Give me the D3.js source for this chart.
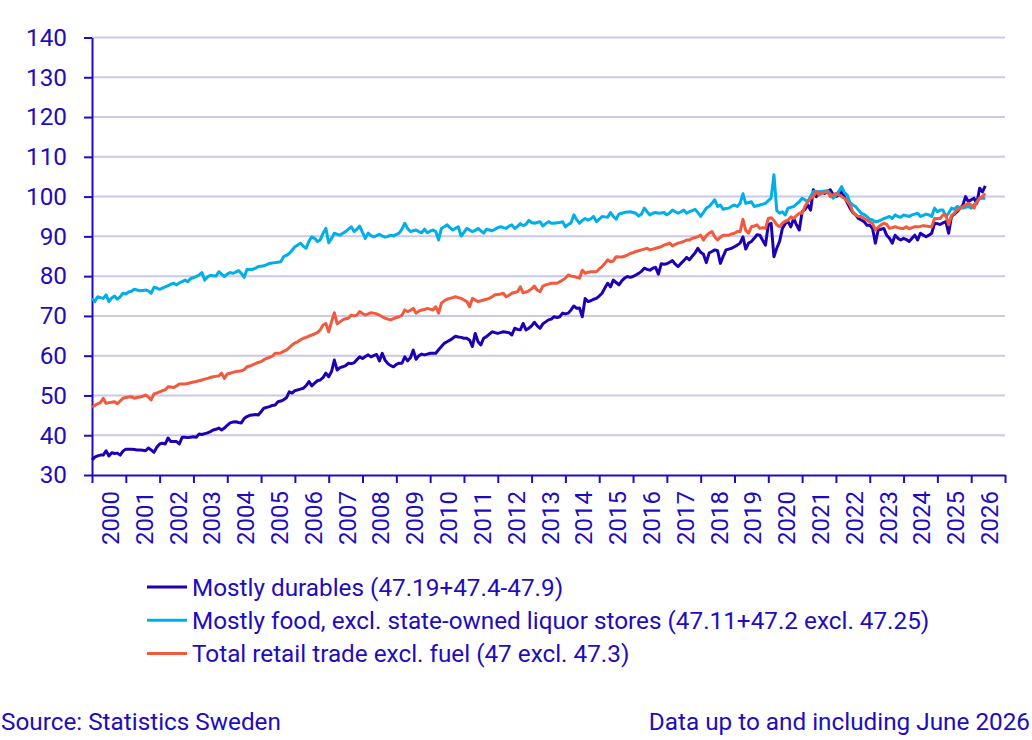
<!DOCTYPE html>
<html>
<head>
<meta charset="utf-8">
<script src="https://cdn.jsdelivr.net/npm/d3@7"></script>
<style>
    body { margin: 0; background: #fff; }
    svg text { font-family: Roboto, "Noto Sans", sans-serif; fill: #1e0cbe; }
</style>
</head>
<body>
<svg id="chart" width="1032" height="740"></svg>
<script>
// monthly index values, Jan 2000 - Jun 2026 (one row per year)
const durables = [
    33.8, 34.5, 34.8, 35.0, 35.0, 36.1, 34.8, 35.6, 35.4, 35.5, 35.0, 36.0,
    36.5, 36.5, 36.5, 36.4, 36.3, 36.3, 36.2, 36.1, 36.8, 36.3, 35.7, 37.0,
    37.8, 38.0, 37.8, 39.3, 38.4, 38.4, 38.4, 37.8, 39.5, 39.5, 39.4, 39.5,
    39.6, 39.5, 40.3, 40.2, 40.4, 40.6, 40.9, 41.3, 41.5, 41.8, 41.3, 41.8,
    42.5, 43.1, 43.3, 43.4, 43.2, 43.1, 44.2, 44.7, 45.0, 45.1, 45.2, 45.1,
    45.9, 46.8, 47.0, 47.2, 47.5, 47.6, 48.4, 48.6, 48.9, 49.4, 50.9, 50.6,
    51.2, 51.4, 51.6, 51.8, 52.5, 53.5, 52.4, 53.1, 53.7, 53.9, 54.5, 55.6,
    54.7, 56.0, 58.9, 56.4, 57.0, 57.2, 57.5, 58.1, 58.0, 58.2, 59.0, 59.7,
    59.3, 59.8, 60.2, 59.7, 60.0, 60.3, 58.7, 60.6, 58.9, 58.0, 57.5, 57.2,
    57.8, 58.1, 58.1, 59.7, 58.7, 59.5, 61.4, 59.1, 60.0, 60.4, 60.2, 60.4,
    60.6, 60.6, 60.6, 61.5, 62.3, 63.1, 63.5, 63.9, 64.4, 64.9, 64.7, 64.6,
    64.4, 64.4, 63.9, 62.3, 65.6, 63.5, 62.7, 64.4, 64.8, 65.4, 66.0, 65.8,
    65.6, 65.8, 66.0, 65.9, 65.8, 65.2, 66.9, 66.6, 66.5, 68.1, 66.5, 66.9,
    67.5, 68.4, 67.5, 66.9, 68.0, 68.5, 69.0, 69.2, 69.8, 69.6, 69.8, 70.7,
    70.5, 70.7, 71.5, 72.5, 71.9, 72.0, 69.8, 74.4, 73.6, 73.8, 74.2, 74.4,
    75.0, 75.7, 77.0, 78.2, 77.3, 79.0, 78.4, 77.8, 78.8, 79.5, 79.9, 79.7,
    79.9, 80.3, 80.7, 81.2, 82.0, 81.7, 81.5, 82.0, 82.2, 80.5, 83.1, 83.0,
    83.1, 83.5, 83.9, 83.0, 82.4, 83.2, 83.9, 84.7, 84.1, 85.0, 85.8, 87.0,
    86.0, 85.5, 83.4, 85.8, 86.2, 86.6, 86.4, 83.2, 85.0, 86.6, 86.8, 87.0,
    87.4, 87.8, 88.3, 89.9, 86.8, 88.3, 88.7, 89.5, 90.4, 90.3, 89.0, 87.8,
    92.9, 93.3, 84.9, 87.0, 88.7, 92.0, 93.2, 93.7, 92.4, 94.5, 92.9, 91.6,
    96.2, 96.8, 97.9, 96.6, 101.7, 100.0, 101.0, 101.3, 100.8, 101.2, 101.7, 100.5,
    100.0, 100.4, 101.3, 100.0, 98.5, 97.1, 96.0, 95.4, 94.5, 94.1, 93.7, 92.8,
    92.8, 92.0, 88.3, 91.6, 91.8, 92.0, 90.3, 89.5, 88.3, 90.3, 89.5, 89.1,
    89.5, 89.2, 88.7, 89.5, 90.3, 89.1, 90.8, 90.3, 89.9, 90.3, 90.8, 93.3,
    93.2, 93.0, 93.4, 93.7, 90.8, 95.0, 95.6, 96.2, 97.0, 97.8, 100.0, 98.7,
    99.2, 99.6, 98.3, 102.1, 101.2, 102.7
];

const food = [
    74.4, 73.6, 74.8, 74.6, 74.4, 75.3, 73.6, 74.5, 75.0, 74.2, 74.8, 75.7,
    75.5, 76.0, 76.2, 76.7, 76.5, 76.3, 76.4, 76.5, 76.3, 75.7, 77.2, 77.0,
    76.7, 77.0, 77.3, 77.6, 78.0, 78.2, 77.8, 78.3, 78.6, 79.0, 78.6, 79.4,
    79.6, 79.9, 80.3, 80.9, 79.0, 79.8, 80.2, 80.1, 80.0, 81.1, 80.5, 79.9,
    80.5, 80.9, 80.7, 81.0, 81.4, 80.7, 79.7, 81.7, 81.7, 81.7, 82.0, 82.4,
    82.5, 82.6, 82.9, 83.2, 83.3, 83.4, 83.5, 83.6, 84.9, 85.2, 85.7, 86.5,
    87.4, 87.8, 88.3, 87.5, 87.0, 88.8, 89.9, 89.5, 88.7, 89.1, 90.8, 92.0,
    88.4, 89.5, 90.8, 90.5, 90.3, 90.8, 91.2, 91.8, 92.4, 91.2, 91.8, 92.6,
    91.0, 89.5, 90.8, 90.2, 89.9, 90.2, 90.5, 90.1, 89.8, 90.0, 90.3, 90.1,
    90.5, 90.8, 91.8, 93.3, 92.0, 91.2, 91.4, 91.6, 91.2, 90.9, 91.8, 90.9,
    91.3, 91.6, 91.2, 89.1, 92.0, 92.4, 92.9, 92.2, 91.6, 92.0, 92.4, 90.1,
    91.0, 92.0, 91.6, 91.2, 91.5, 92.0, 91.4, 90.8, 91.8, 91.6, 91.4, 91.8,
    92.2, 92.4, 92.2, 92.0, 92.6, 92.9, 92.0, 92.5, 93.2, 92.7, 93.0, 94.0,
    93.5, 93.3, 93.5, 93.7, 92.6, 93.2, 93.7, 93.3, 93.3, 93.4, 93.5, 93.7,
    92.4, 93.0, 93.4, 95.4, 94.2, 93.3, 94.0, 94.5, 94.1, 94.4, 95.0, 93.7,
    94.3, 95.0, 94.9, 94.8, 96.0, 95.0, 94.3, 95.6, 95.8, 96.0, 96.1, 96.2,
    96.0, 95.8, 95.1, 95.6, 97.1, 96.2, 95.4, 95.8, 96.0, 95.8, 95.9, 96.0,
    95.4, 95.9, 96.6, 96.2, 95.8, 96.2, 96.6, 95.8, 96.2, 96.5, 96.8, 96.0,
    95.0, 96.0, 97.1, 97.5, 98.3, 99.2, 97.5, 97.9, 96.8, 97.0, 97.1, 97.6,
    97.9, 97.5, 98.3, 100.7, 98.3, 98.5, 98.7, 97.5, 97.7, 97.9, 98.1, 98.3,
    99.0, 99.6, 105.5, 96.5, 95.8, 96.2, 95.4, 97.1, 97.3, 97.5, 98.1, 98.7,
    99.6, 99.2, 98.7, 100.0, 101.3, 101.3, 101.2, 101.3, 101.4, 101.5, 100.7, 99.6,
    100.2, 101.3, 102.5, 101.0, 100.4, 98.5, 97.9, 97.5, 96.6, 95.8, 95.5, 95.0,
    94.3, 94.1, 93.7, 93.8, 94.1, 94.5, 94.7, 95.0, 94.5, 95.4, 95.0, 94.8,
    95.4, 95.2, 95.0, 95.4, 95.6, 95.8, 95.0, 95.3, 95.6, 95.4, 95.0, 97.1,
    96.2, 96.6, 96.6, 95.0, 95.8, 97.1, 96.8, 97.5, 97.3, 97.1, 97.3, 97.5,
    97.1, 97.9, 98.5, 99.6, 99.6, 99.6
];

const total = [
    47.0, 47.5, 47.9, 48.2, 49.3, 48.0, 48.2, 48.3, 48.4, 47.9, 48.6, 49.3,
    49.5, 49.6, 49.7, 49.3, 49.5, 49.6, 49.8, 50.1, 49.6, 48.9, 50.4, 50.6,
    50.9, 51.2, 51.4, 52.2, 52.1, 52.0, 52.4, 52.9, 52.9, 52.9, 53.0, 53.2,
    53.4, 53.5, 53.7, 53.9, 54.1, 54.3, 54.5, 54.7, 54.8, 54.9, 55.6, 54.3,
    55.4, 55.6, 55.8, 56.0, 56.1, 56.2, 56.5, 57.2, 57.4, 57.7, 58.0, 58.3,
    58.5, 59.0, 59.3, 59.6, 59.9, 60.6, 60.6, 60.7, 61.1, 61.4, 62.0, 62.7,
    63.2, 63.5, 64.0, 64.4, 64.6, 64.9, 65.2, 65.5, 65.8, 66.5, 67.7, 68.1,
    66.0, 68.5, 70.8, 68.0, 68.5, 69.0, 69.3, 69.4, 70.2, 70.0, 70.2, 71.1,
    70.6, 70.2, 70.5, 70.8, 70.7, 70.5, 70.2, 69.8, 69.4, 69.2, 69.0, 69.3,
    69.6, 69.8, 70.2, 71.5, 71.1, 71.4, 71.9, 70.7, 71.2, 71.5, 71.6, 71.9,
    71.7, 71.5, 72.3, 70.7, 73.2, 73.8, 74.2, 74.4, 74.6, 74.8, 74.6, 74.4,
    74.0, 73.6, 72.3, 74.4, 74.0, 73.6, 73.8, 74.0, 74.2, 74.4, 74.8, 75.3,
    75.4, 75.5, 75.7, 74.8, 75.2, 75.7, 75.9, 76.1, 77.3, 75.8, 76.0, 76.3,
    76.8, 77.5, 76.5, 76.1, 77.5, 77.8, 78.0, 78.2, 78.2, 78.2, 78.6, 79.0,
    79.5, 80.3, 80.0, 79.9, 79.7, 79.5, 81.5, 80.7, 81.0, 81.1, 81.1, 81.1,
    81.8, 82.4, 83.2, 84.1, 83.6, 83.8, 84.9, 84.8, 84.8, 85.0, 85.3, 85.7,
    85.9, 86.2, 86.4, 86.6, 86.8, 87.0, 86.6, 86.8, 87.0, 87.2, 87.4, 87.8,
    88.0, 88.3, 87.6, 88.0, 88.3, 88.5, 88.7, 89.1, 89.1, 89.5, 89.7, 89.9,
    90.3, 89.1, 90.2, 90.8, 91.2, 89.9, 89.1, 89.8, 90.3, 90.3, 90.3, 90.6,
    90.8, 91.2, 91.2, 94.3, 91.5, 90.8, 92.4, 92.6, 92.9, 92.0, 92.2, 92.0,
    94.5, 94.7, 94.0, 92.9, 92.4, 93.3, 93.8, 94.1, 94.9, 94.5, 95.2, 95.8,
    95.8, 97.5, 98.7, 99.5, 100.0, 101.3, 100.4, 100.8, 101.0, 101.3, 100.0, 100.4,
    100.8, 100.5, 100.0, 99.6, 98.8, 97.9, 96.2, 95.4, 95.0, 95.0, 94.5, 94.1,
    93.6, 93.3, 91.6, 92.3, 92.9, 93.3, 93.0, 92.0, 92.2, 92.4, 92.2, 92.0,
    92.0, 92.4, 91.9, 92.2, 92.4, 92.4, 92.5, 92.7, 92.6, 92.5, 92.4, 94.5,
    94.5, 94.5, 95.4, 95.4, 92.9, 95.2, 95.8, 96.6, 97.0, 97.5, 97.9, 98.3,
    97.9, 97.1, 98.7, 99.5, 100.0, 100.8
];

const yearLabels = [
    "2000", "2001", "2002", "2003", "2004", "2005", "2006", "2007", "2008",
    "2009", "2010", "2011", "2012", "2013", "2014", "2015", "2016", "2017",
    "2018", "2019", "2020", "2021", "2022", "2023", "2024", "2025", "2026"
];
const yTicks = [30, 40, 50, 60, 70, 80, 90, 100, 110, 120, 130, 140];
const seriesNames = [
    "Mostly durables (47.19+47.4-47.9)",
    "Mostly food, excl. state-owned liquor stores (47.11+47.2 excl. 47.25)",
    "Total retail trade excl. fuel (47 excl. 47.3)"
];
const seriesColors = ["#1e00b4", "#00aee8", "#f15a3c"];

const axisColor = "#1e0cbe",
    gridColor = "#c9c9e9",
    fontSize = 24.3;

const svg = d3.select("#chart");

const x = d3.scaleLinear().domain([0, yearLabels.length * 12]).range([92, 1005]);
const y = d3.scaleLinear().domain([30, 140]).range([475, 37.5]);

// gridlines
svg.append("g")
    .selectAll("line")
    .data(yTicks.filter(d => d > 30))
    .join("line")
    .attr("x1", x.range()[0])
    .attr("x2", x.range()[1])
    .attr("y1", d => y(d))
    .attr("y2", d => y(d))
    .attr("stroke", gridColor)
    .attr("stroke-width", 2);

// y axis
const yAxis = svg.append("g")
    .attr("transform", "translate(92,0)")
    .call(d3.axisLeft(y).tickValues(yTicks).tickSize(8).tickSizeOuter(0).tickPadding(17));
yAxis.selectAll("path, line").attr("stroke", axisColor).attr("stroke-width", 2);
yAxis.selectAll("text").attr("font-size", fontSize).attr("font-family", null);

// x axis (year boundaries)
const xAxis = svg.append("g")
    .attr("transform", "translate(0,475)")
    .call(d3.axisBottom(x).tickValues(d3.range(0, yearLabels.length * 12 + 1, 12)).tickSize(8).tickSizeOuter(0).tickFormat(""));
xAxis.selectAll("path, line").attr("stroke", axisColor).attr("stroke-width", 2);

// year labels, centred in each year
svg.append("g")
    .selectAll("text")
    .data(yearLabels)
    .join("text")
    .attr("transform", (d, i) => `translate(${x(i * 12 + 6) + 2},491) rotate(-90)`)
    .attr("text-anchor", "end")
    .attr("dominant-baseline", "central")
    .attr("font-size", 24)
    .text(d => d);

// series
const line = d3.line()
    .x((d, i) => x(i))
    .y(d => y(d));

svg.append("g")
    .selectAll("path")
    .data([durables, food, total])
    .join("path")
    .attr("d", line)
    .attr("fill", "none")
    .attr("stroke", (d, i) => seriesColors[i])
    .attr("stroke-width", 3)
    .attr("stroke-linejoin", "round");

// legend
const legend = svg.append("g")
    .selectAll("g")
    .data(seriesNames)
    .join("g")
    .attr("transform", (d, i) => `translate(147,${587 + i * 33.3})`);
legend.append("line")
    .attr("x1", 0)
    .attr("x2", 40)
    .attr("stroke", (d, i) => seriesColors[i])
    .attr("stroke-width", 3);
legend.append("text")
    .attr("x", 45)
    .attr("dy", "0.35em")
    .attr("font-size", fontSize)
    .text(d => d);

// footer
svg.append("text")
    .attr("x", 1)
    .attr("y", 730)
    .attr("font-size", fontSize)
    .text("Source: Statistics Sweden");
svg.append("text")
    .attr("x", 1030)
    .attr("y", 730)
    .attr("text-anchor", "end")
    .attr("font-size", fontSize)
    .text("Data up to and including June 2026");
</script>
</body>
</html>
